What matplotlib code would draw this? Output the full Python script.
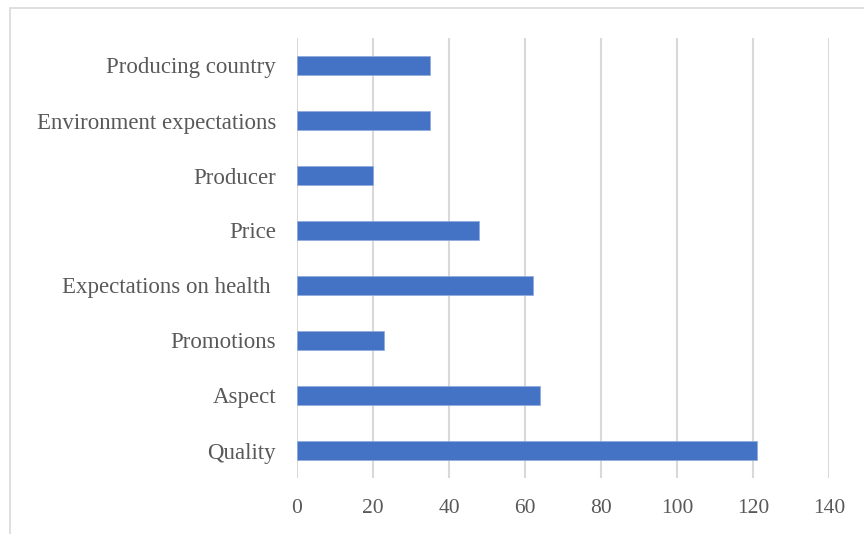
import matplotlib.pyplot as plt
from matplotlib.patches import Rectangle

categories = ['Quality', 'Aspect', 'Promotions', 'Expectations on health ',
              'Price', 'Producer', 'Environment expectations', 'Producing country']
values = [121, 64, 23, 62, 48, 20, 35, 35]
xticks = [0, 20, 40, 60, 80, 100, 120, 140]

W, H = 864, 534
fig = plt.figure(figsize=(W / 100, H / 100), dpi=100)
plt.rcParams['font.family'] = ['Liberation Serif', 'DejaVu Serif']

# chart area frame (runs off the right and bottom edges)
fig.patches.append(Rectangle((10 / W, -0.1), 1.2, 1 - 8 / H + 0.1,
                             transform=fig.transFigure, fill=False,
                             edgecolor='#d9d9d9', linewidth=1.2))

ax = fig.add_axes([297 / W, 1 - 478 / H, (829 - 297) / W, (478 - 38) / H])
ax.barh(range(len(categories)), values, height=0.36, color='#4472C4',
        edgecolor='#8eaadb', linewidth=0.5, zorder=3)
ax.set_ylim(-0.5, len(categories) - 0.5)
ax.set_xlim(0, 140)
ax.set_xticks(xticks)
ax.set_yticks(range(len(categories)))
ax.set_yticklabels(categories)
ax.grid(axis='x', color='#d9d9d9', linewidth=1.5, zorder=0)
for s in ax.spines.values():
    s.set_visible(False)
ax.tick_params(length=0, colors='#595959')
ax.tick_params(axis='y', pad=15, labelsize=16.5)
ax.tick_params(axis='x', pad=15, labelsize=15.5)

fig.savefig('out.png', dpi=100)
